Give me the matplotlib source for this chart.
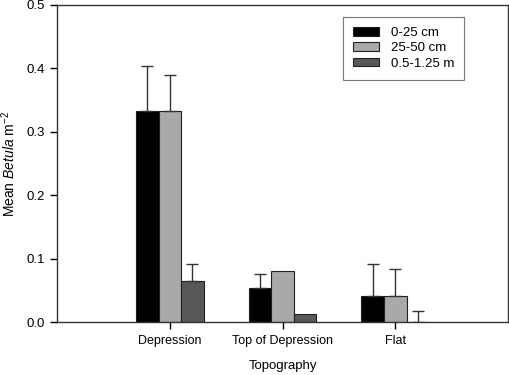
import matplotlib.pyplot as plt
import numpy as np

plt.rcParams['font.family'] = ['Liberation Sans', 'DejaVu Sans']
plt.rcParams['mathtext.fontset'] = 'custom'
plt.rcParams['mathtext.rm'] = 'Liberation Sans'
plt.rcParams['mathtext.it'] = 'Liberation Sans:italic'

# data
groups = ['Depression', 'Top of Depression', 'Flat']
series = ['0-25 cm', '25-50 cm', '0.5-1.25 m']
means = [
    [0.333, 0.053, 0.041],   # 0-25 cm
    [0.333, 0.080, 0.041],   # 25-50 cm
    [0.064, 0.013, 0.000],   # 0.5-1.25 m
]
errors = [
    [0.070, 0.023, 0.050],
    [0.057, 0.000, 0.042],
    [0.028, 0.000, 0.017],
]
colors = ['#000000', '#a9a9a9', '#585858']

fig = plt.figure(figsize=(5.1, 3.75), dpi=100)
ax = fig.add_axes([0.112, 0.1413, 0.884, 0.8454])

x = np.arange(1, len(groups) + 1)
width = 0.2
offsets = [-0.2, 0.0, 0.2]

for vals, errs, col, lab, off in zip(means, errors, colors, series, offsets):
    errs = np.array(errs)
    ax.bar(x + off, vals, width, color=col, edgecolor='#202020', linewidth=0.8,
           label=lab, zorder=2)
    show = errs > 0
    ax.errorbar((x + off)[show], np.array(vals)[show], yerr=[np.zeros(show.sum()), errs[show]],
                fmt='none', ecolor='#333333', elinewidth=1, capsize=4, capthick=1, zorder=3)

ax.set_xlim(0, 4)
ax.set_ylim(0, 0.5)
ax.set_xticks(x)
ax.set_xticklabels(groups, fontsize=9)
ax.set_yticks(np.arange(0, 0.51, 0.1))
ax.set_yticklabels([f'{v:.1f}' for v in np.arange(0, 0.51, 0.1)], fontsize=9.5)
ax.tick_params(direction='out', length=5, width=1, top=False, right=False, pad=4)
for sp in ax.spines.values():
    sp.set_color('#333333')
    sp.set_linewidth(1)

ax.set_xlabel('Topography', fontsize=9.5, labelpad=10)
ax.set_ylabel(r'Mean $\it{Betula}$ m$^{\rm{-2}}$', fontsize=10, labelpad=6)

leg = ax.legend(loc='upper right', bbox_to_anchor=(0.902, 0.962), borderaxespad=0,
                fontsize=9.5, frameon=True, fancybox=False, edgecolor='#555555',
                handlelength=1.95, handleheight=0.65, handletextpad=0.9,
                borderpad=0.75, labelspacing=0.25)
leg.get_frame().set_linewidth(0.8)

fig.savefig('out.png', dpi=100)
